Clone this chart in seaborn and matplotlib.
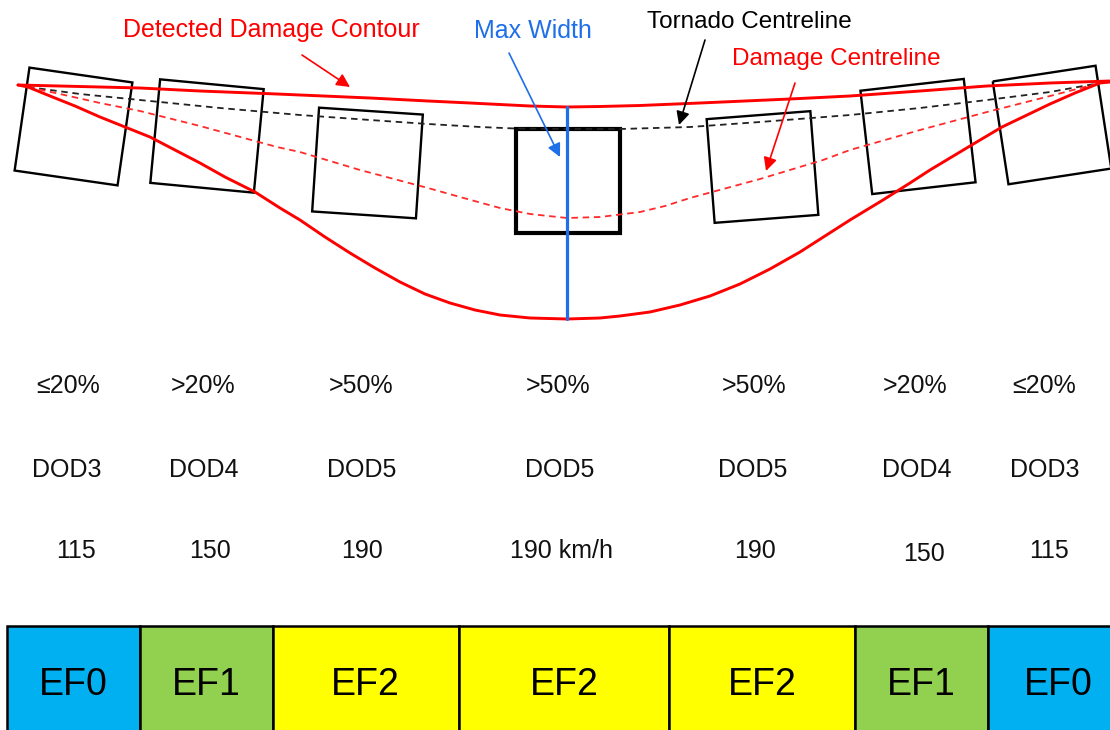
import numpy as np
import matplotlib
matplotlib.use("Agg")
import matplotlib.pyplot as plt
from matplotlib.patches import Polygon, Rectangle
import seaborn as sns

# ── Data (pixel space of the diagram, y grows downward) ─────────────────────
# detected damage contour – upper edge
upper_x = [18, 100, 140, 200, 277, 370, 428, 470, 500, 530, 567, 600, 640,
           700, 790, 850, 920, 987, 1050, 1110]
upper_y = [85, 87, 88, 91, 94, 98, 101, 103, 104.5, 106, 107, 106.5, 105.5,
           103, 99, 96, 91, 86, 83, 81]

# detected damage contour – lower edge
lower_x = [18, 28, 50, 75, 100, 125, 150, 175, 200, 225, 255, 280, 300, 325,
           350, 375, 400, 425, 450, 475, 500, 530, 567, 600, 620, 650, 680,
           710, 740, 770, 800, 825, 850, 883, 910, 930, 950, 970, 1002, 1025,
           1050, 1075, 1100, 1110]
lower_y = [85, 87, 96, 106, 117, 127, 137, 150, 163, 177, 192, 208, 220, 237,
           253, 268, 282, 294, 303, 310, 315, 318, 319, 318, 316, 312, 305,
           296, 284, 269, 252, 236, 220, 200, 183, 170, 158, 146, 127, 116,
           104, 93, 83, 82]

# tornado centreline (black dashed)
tor_x = [28, 80, 140, 220, 300, 370, 428, 480, 515, 567, 620, 690, 760, 850,
         920, 987, 1050, 1100]
tor_y = [87, 94, 100, 108, 115, 120, 124, 127, 128.5, 129, 129, 127, 122,
         115, 108, 100, 92, 83]

# damage centreline (red dashed)
dmg_x = [28, 60, 100, 140, 200, 277, 300, 360, 428, 460, 500, 530, 567, 600,
         640, 665, 690, 760, 823, 850, 920, 987, 1050, 1100]
dmg_y = [87, 94, 103, 111, 126, 147, 152, 170, 188, 197, 208, 214, 218, 217,
         212, 206, 198, 179, 160, 150, 130, 112, 96, 83]

# damage survey boxes: centre x, centre y, rotation (deg)
box_cx    = [73.5, 207, 367.5, 567.5, 762.5, 918, 1052]
box_cy    = [126.5, 136, 163, 180.5, 167, 136.5, 125]
box_angle = [8.2, 5.4, 3.8, 0.0, -4.4, -6.5, -8.7]
BOX_SIZE  = 104

max_width_x = 567

# table rows
row_x      = [68, 203, 361, 558, 754, 915, 1044]
dod_pct    = ["≤20%", ">20%", ">50%", ">50%", ">50%", ">20%", "≤20%"]
dod_x      = [67, 204, 362, 560, 753, 917, 1045]
dod_labels = ["DOD3", "DOD4", "DOD5", "DOD5", "DOD5", "DOD4", "DOD3"]
speed_x    = [76, 210, 362, 561, 755, 924, 1049]
speed_y    = [558, 558, 558, 558, 558, 561, 558]
speeds     = ["115", "150", "190", "190 km/h", "190", "150", "115"]

# EF rating band
ef_edges  = [7, 139.5, 272.5, 459, 669, 855, 987.5, 1130]
ef_labels = ["EF0", "EF1", "EF2", "EF2", "EF2", "EF1", "EF0"]
EF_COLORS = {"EF0": "#00B0F0", "EF1": "#92D050", "EF2": "#FFFF00"}

RED  = "#FF0000"
BLUE = "#1E6FE8"

# ── Figure ───────────────────────────────────────────────────────────────────
sns.set_theme(style="white")
plt.rcParams["font.family"] = ["Liberation Sans", "DejaVu Sans"]

fig = plt.figure(figsize=(11.1, 7.3), dpi=100)
ax = fig.add_axes([0, 0, 1, 1])
ax.set_xlim(0, 1110)
ax.set_ylim(730, 0)
ax.axis("off")

# boxes
for cx, cy, ang in zip(box_cx, box_cy, box_angle):
    t = np.deg2rad(ang)
    c, s = np.cos(t), np.sin(t)
    h = BOX_SIZE / 2
    pts = []
    for dx, dy in [(-h, -h), (h, -h), (h, h), (-h, h)]:
        pts.append((cx + c * dx - s * dy, cy + s * dx + c * dy))
    lw = 3.0 if ang == 0 else 1.7
    ax.add_patch(Polygon(pts, closed=True, fill=False, edgecolor="black",
                         linewidth=lw, joinstyle="miter", zorder=1))

# centrelines
sns.lineplot(x=tor_x, y=tor_y, ax=ax, color="#222222", linewidth=1.3,
             linestyle=(0, (3.6, 2.6)), sort=False, estimator=None, zorder=2)
sns.lineplot(x=dmg_x, y=dmg_y, ax=ax, color="#FF2A2A", linewidth=1.3,
             linestyle=(0, (3.6, 2.6)), sort=False, estimator=None, zorder=2)

# damage contour
sns.lineplot(x=upper_x, y=upper_y, ax=ax, color=RED, linewidth=2.1,
             sort=False, estimator=None, zorder=3)
sns.lineplot(x=lower_x, y=lower_y, ax=ax, color=RED, linewidth=2.1,
             sort=False, estimator=None, zorder=3)

# max width line (between the two contour edges at the widest point)
top_y = upper_y[upper_x.index(max_width_x)]
bot_y = lower_y[lower_x.index(max_width_x)]
ax.plot([max_width_x, max_width_x], [top_y, bot_y],
        color=BLUE, linewidth=2.3, zorder=4)

# annotations
arrow = dict(arrowstyle="-|>", mutation_scale=20, shrinkA=0, shrinkB=0, lw=1.2)
ax.text(271, 37, "Detected Damage Contour", color=RED, fontsize=18,
        ha="center", va="baseline")
ax.annotate("", xy=(350, 87), xytext=(302, 55),
            arrowprops={**arrow, "color": RED})
ax.text(533, 38, "Max Width", color=BLUE, fontsize=18,
        ha="center", va="baseline")
ax.annotate("", xy=(560, 157), xytext=(509, 53),
            arrowprops={**arrow, "color": BLUE})
ax.text(749, 28, "Tornado Centreline", color="black", fontsize=17.5,
        ha="center", va="baseline")
ax.annotate("", xy=(679, 125), xytext=(705, 40),
            arrowprops={**arrow, "color": "black"})
ax.text(836, 65, "Damage Centreline", color=RED, fontsize=17.5,
        ha="center", va="baseline")
ax.annotate("", xy=(766, 171), xytext=(795, 83),
            arrowprops={**arrow, "color": RED})

# table text rows
for x, lab in zip(row_x, dod_pct):
    ax.text(x, 393, lab, fontsize=18, ha="center", va="baseline", color="#111111")
for x, lab in zip(dod_x, dod_labels):
    ax.text(x, 477, lab, fontsize=18, ha="center", va="baseline", color="#111111")
for x, y, lab in zip(speed_x, speed_y, speeds):
    ax.text(x, y, lab, fontsize=18, ha="center", va="baseline", color="#111111")

# EF band
for i, lab in enumerate(ef_labels):
    x0, x1 = ef_edges[i], ef_edges[i + 1]
    ax.add_patch(Rectangle((x0, 626), x1 - x0, 120, facecolor=EF_COLORS[lab],
                           edgecolor="black", linewidth=1.8, zorder=1))
    ax.text((x0 + x1) / 2, 695, lab, fontsize=27, ha="center",
            va="baseline", color="black", zorder=2)

fig.savefig("out.png", dpi=100)
